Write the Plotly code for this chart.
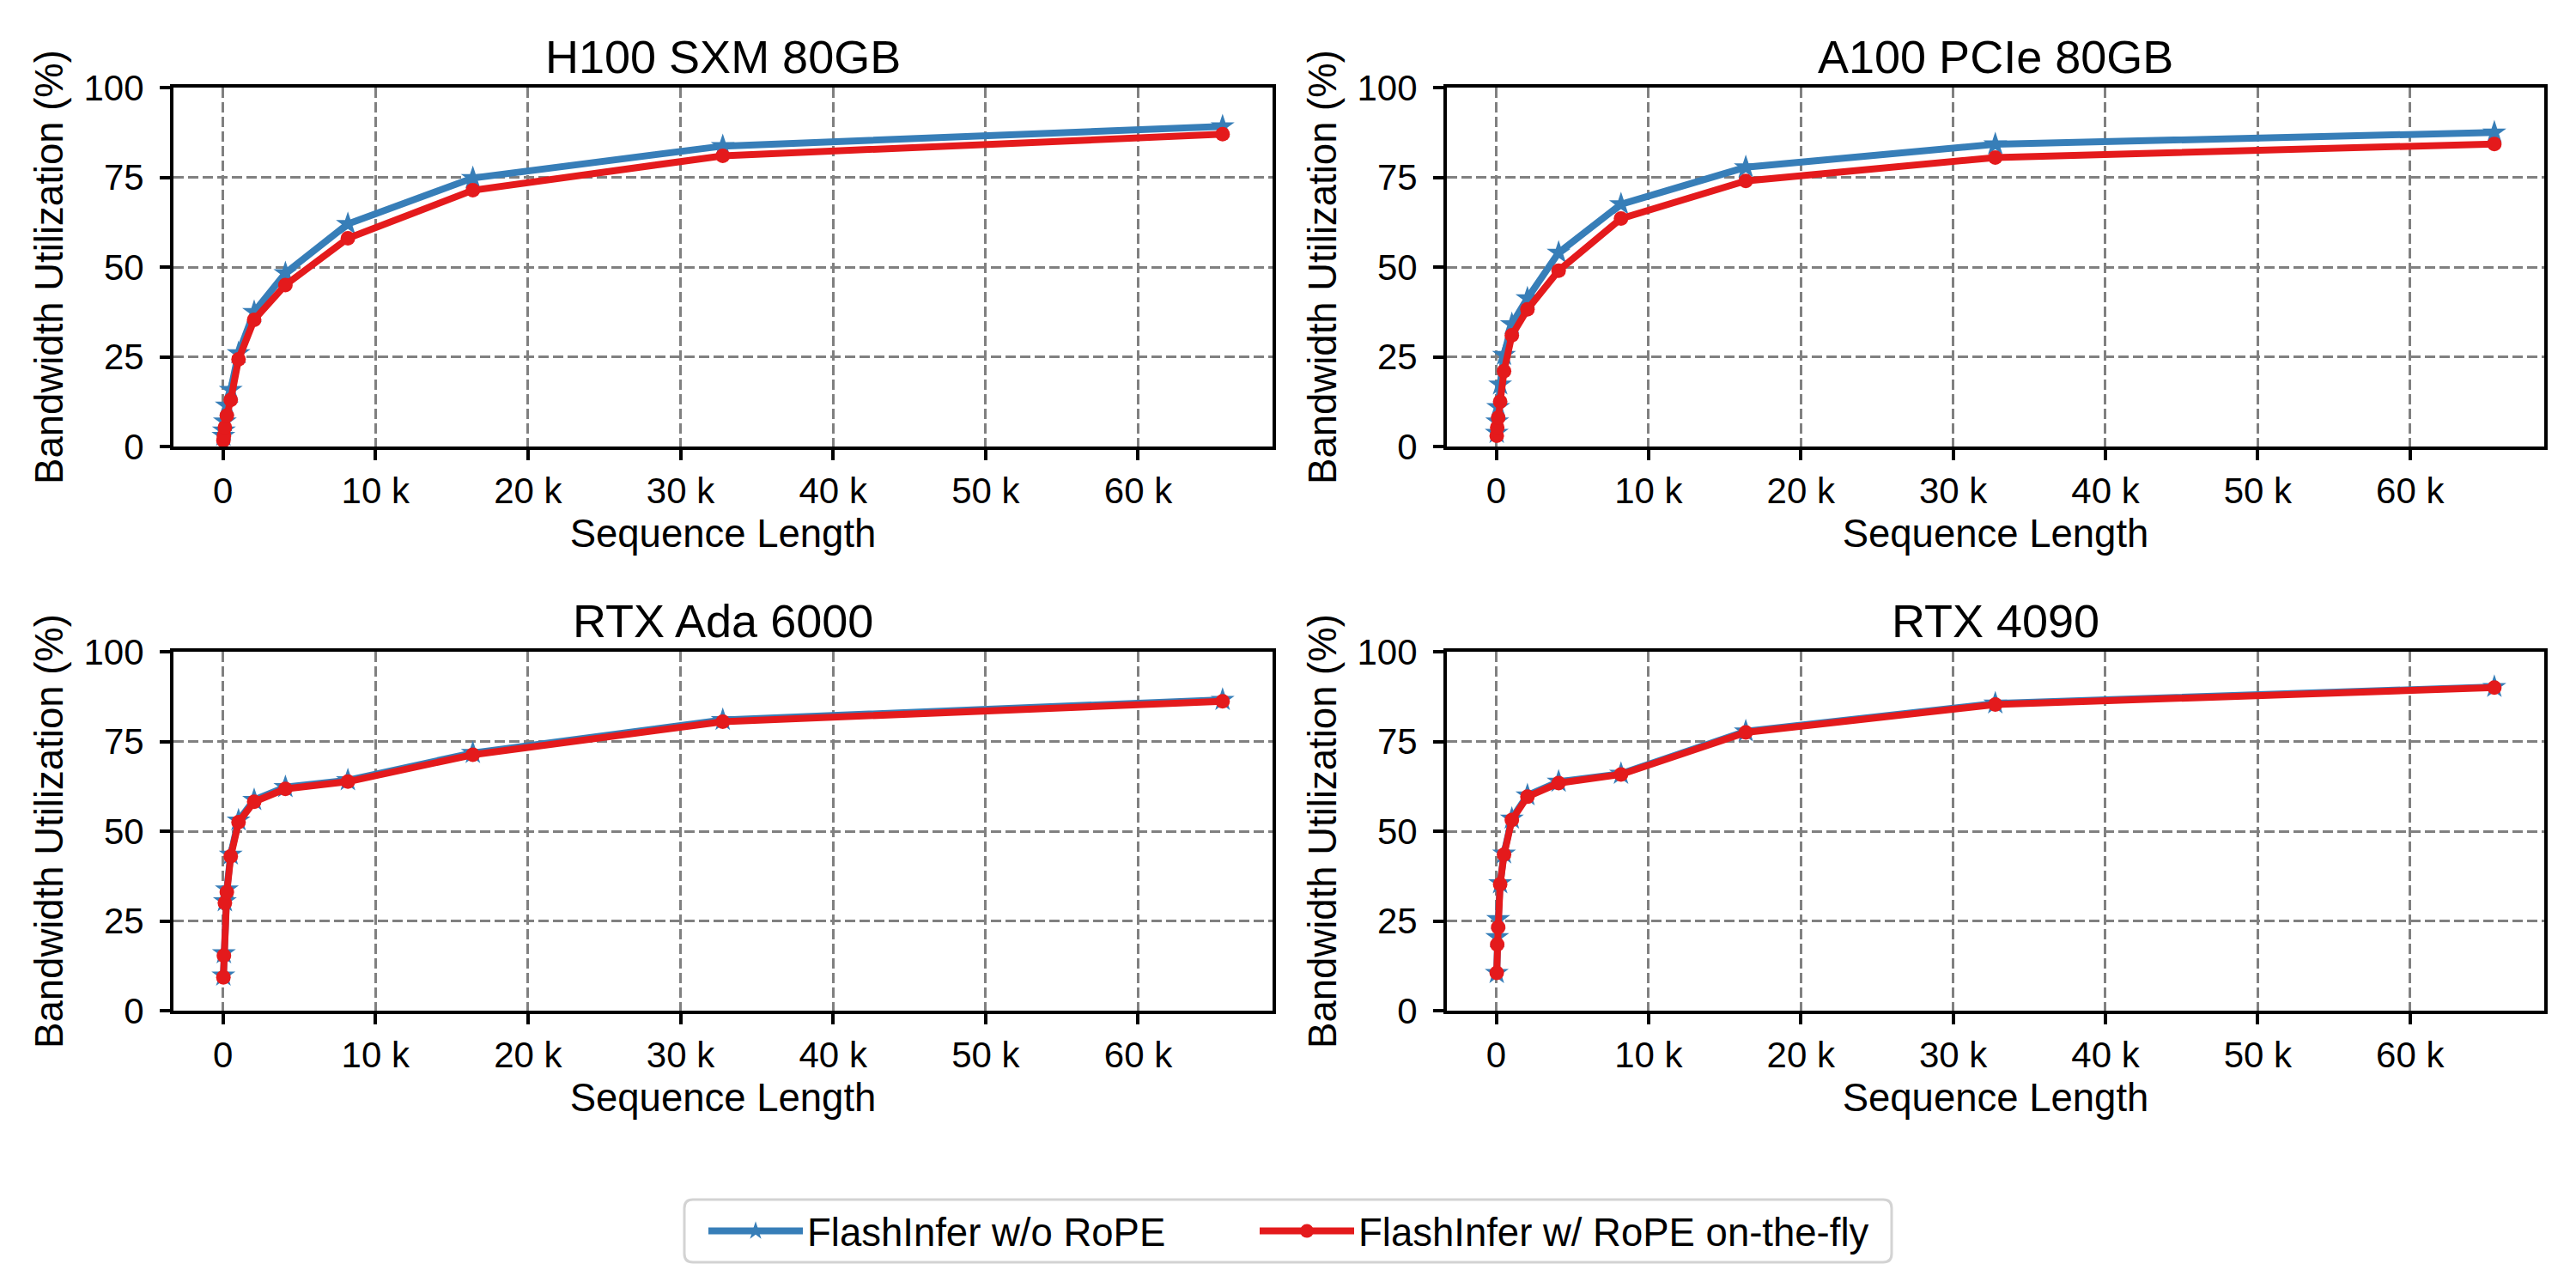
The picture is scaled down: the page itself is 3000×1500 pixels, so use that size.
import plotly.graph_objects as go

seq_len = [32, 64, 128, 256, 512, 1024, 2048, 4096, 8192, 16384, 32768, 65536]

gpu_titles = ["H100 SXM 80GB", "A100 PCIe 80GB", "RTX Ada 6000", "RTX 4090"]

h100_no_rope = [3.0, 4.5, 7.0, 11.4, 15.8, 26.0, 37.5, 48.3, 62.0, 74.8, 83.7, 89.2]
h100_rope = [1.7, 3.0, 5.3, 8.6, 13.0, 24.3, 35.3, 45.0, 58.0, 71.4, 81.0, 87.0]

a100_no_rope = [3.8, 7.0, 11.0, 17.3, 25.5, 34.1, 41.3, 54.0, 67.5, 77.8, 84.2, 87.5]
a100_rope = [3.0, 5.3, 8.0, 12.5, 21.0, 31.0, 38.2, 49.0, 63.5, 74.0, 80.5, 84.3]

ada_no_rope = [9.8, 16.0, 30.5, 33.8, 43.5, 53.0, 58.7, 62.3, 64.2, 71.8, 81.0, 86.6]
ada_rope = [9.3, 15.3, 30.0, 33.0, 43.0, 52.5, 58.2, 61.8, 63.8, 71.3, 80.5, 86.2]

rtx4090_no_rope = [10.5, 20.5, 25.5, 35.5, 43.8, 53.5, 60.0, 63.8, 66.0, 77.8, 85.6, 90.2]
rtx4090_rope = [10.5, 18.4, 23.2, 35.2, 43.5, 53.1, 59.6, 63.4, 65.8, 77.5, 85.3, 90.0]

series_names = ["FlashInfer w/o RoPE", "FlashInfer w/ RoPE on-the-fly"]

x_tick_vals = [0, 10000, 20000, 30000, 40000, 50000, 60000]
x_tick_text = ["0", "10 k", "20 k", "30 k", "40 k", "50 k", "60 k"]
y_tick_vals = [0, 25, 50, 75, 100]
y_tick_text = ["0", "25", "50", "75", "100"]

x_label = "Sequence Length"
y_label = "Bandwidth Utilization (%)"

BLUE = "#377eb8"
RED = "#e41a1c"
FONT = "Liberation Sans, Arial, Helvetica, sans-serif"
TICK_SIZE, LABEL_SIZE, TITLE_SIZE, LEGEND_SIZE = 42, 45.5, 54, 45.5

panels = [
    (h100_no_rope, h100_rope),
    (a100_no_rope, a100_rope),
    (ada_no_rope, ada_rope),
    (rtx4090_no_rope, rtx4090_rope),
]

# page body has an 8px margin; size the figure so it fills the 3000x1500 window
OFF = 8
W, H = 3000 - OFF, 1500 - OFF
col_px = [(202 - OFF, 1482 - OFF), (1685 - OFF, 2963 - OFF)]
row_px = [(102 - OFF, 520 - OFF), (759 - OFF, 1177 - OFF)]


def px_x(p):
    return (p - OFF) / W


def px_y(p):
    return 1 - (p - OFF) / H


fig = go.Figure()

span = max(seq_len) - min(seq_len)
x_range = [min(seq_len) - 0.05 * span, max(seq_len) + 0.05 * span]

for i, (no_rope, rope) in enumerate(panels):
    r, c = divmod(i, 2)
    ax = "" if i == 0 else str(i + 1)
    xd = [col_px[c][0] / W, col_px[c][1] / W]
    yd = [1 - row_px[r][1] / H, 1 - row_px[r][0] / H]
    fig.add_trace(go.Scatter(
        x=seq_len, y=no_rope, mode="lines+markers", name=series_names[0],
        line=dict(color=BLUE, width=8),
        marker=dict(symbol="star", size=21, color=BLUE, line=dict(width=0)),
        xaxis="x" + ax, yaxis="y" + ax, showlegend=(i == 0), legend="legend",
    ))
    fig.add_trace(go.Scatter(
        x=seq_len, y=rope, mode="lines+markers", name=series_names[1],
        line=dict(color=RED, width=8),
        marker=dict(symbol="circle", size=17, color=RED, line=dict(width=0)),
        xaxis="x" + ax, yaxis="y" + ax, showlegend=(i == 0), legend="legend2",
    ))
    common = dict(
        showline=True, linecolor="black", linewidth=4, mirror=True,
        ticks="outside", ticklen=12, tickwidth=4, tickcolor="black",
        showgrid=True, gridcolor="#808080", gridwidth=3.3, griddash="12px,5px",
        zeroline=False, automargin=False,
        tickfont=dict(family=FONT, size=TICK_SIZE, color="black"),
    )
    fig.layout["xaxis" + ax] = dict(
        domain=xd, anchor="y" + ax, range=x_range,
        tickvals=x_tick_vals, ticktext=x_tick_text, ticklabelstandoff=0,
        title=dict(text=x_label, font=dict(family=FONT, size=LABEL_SIZE, color="black"), standoff=12),
        **common,
    )
    fig.layout["yaxis" + ax] = dict(
        domain=yd, anchor="x" + ax, range=[0, 100],
        tickvals=y_tick_vals, ticktext=y_tick_text, ticklabelstandoff=10,
        title=dict(text=y_label, font=dict(family=FONT, size=LABEL_SIZE, color="black"), standoff=11),
        **common,
    )
    fig.add_annotation(
        text=gpu_titles[i], xref="paper", yref="paper",
        x=(xd[0] + xd[1]) / 2, y=yd[1], xanchor="center", yanchor="bottom",
        yshift=4, showarrow=False,
        font=dict(family=FONT, size=TITLE_SIZE, color="black"),
    )

# legend frame (page pixel coords) with rounded corners
bx0, bx1, by0, by1, rad = px_x(797), px_x(2203), px_y(1397), px_y(1470), 10
rx, ry = rad / W, rad / H
frame = (
    f"M {bx0 + rx},{by0} L {bx1 - rx},{by0} Q {bx1},{by0} {bx1},{by0 - ry} "
    f"L {bx1},{by1 + ry} Q {bx1},{by1} {bx1 - rx},{by1} "
    f"L {bx0 + rx},{by1} Q {bx0},{by1} {bx0},{by1 + ry} "
    f"L {bx0},{by0 - ry} Q {bx0},{by0} {bx0 + rx},{by0} Z"
)
fig.add_shape(type="path", path=frame, xref="paper", yref="paper",
              line=dict(color="#d3d3d3", width=3), fillcolor="white", layer="below")

leg_common = dict(
    orientation="h", xanchor="left", yanchor="middle", y=px_y(1434),
    bgcolor="rgba(0,0,0,0)", borderwidth=0,
    font=dict(family=FONT, size=LEGEND_SIZE, color="black"),
    itemwidth=110,
)

fig.update_layout(
    width=W, height=H,
    margin=dict(l=0, r=0, t=0, b=0, autoexpand=False),
    paper_bgcolor="white", plot_bgcolor="white",
    font=dict(family=FONT, size=TICK_SIZE, color="black"),
    legend=dict(x=px_x(820), **leg_common),
    legend2=dict(x=px_x(1462), **leg_common),
)

fig.write_html("out.html")
